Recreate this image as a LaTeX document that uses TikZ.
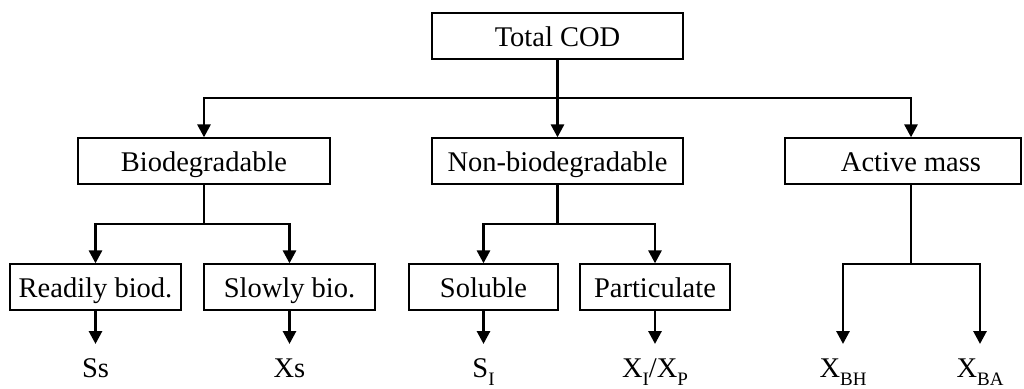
\documentclass[tikz,border=0pt]{standalone}
\usepackage{fontspec}
\setmainfont{Liberation Serif}
\usetikzlibrary{arrows.meta}

% lowered, smaller subscript for the state-variable names
\newcommand\lowsub[1]{\raisebox{-8pt}{\fontsize{19pt}{20pt}\selectfont #1}}

\begin{document}
\begin{tikzpicture}[x=1pt,y=-1pt,
  box/.style={draw, line width=1.3pt, minimum height=46pt, inner sep=0pt,
              text height=20pt, text depth=0pt,
              font=\fontsize{28.5pt}{32pt}\selectfont},
  conn/.style={line width=2.9pt, -{Triangle[width=13pt,length=13pt]}},
  plain/.style={line width=2.9pt},
  var/.style={anchor=base, inner sep=0pt, font=\fontsize{28.5pt}{32pt}\selectfont}]

\useasboundingbox (0,0) rectangle (1024,388);

% boxes
\node[box, minimum width=251pt] (tc)  at (557.5,36)  {Total COD};
\node[box, minimum width=252pt] (bio) at (204,161)   {Biodegradable};
\node[box, minimum width=251pt] (nb)  at (557.5,161) {Non-biodegradable};
\node[box, minimum width=236pt] (am)  at (903,161)   {\hspace*{16pt}Active mass};
\node[box, minimum width=171pt] (rb)  at (95.5,287)  {Readily biod.};
\node[box, minimum width=171pt] (sb)  at (289.5,287) {Slowly bio.};
\node[box, minimum width=149pt] (so)  at (483.5,287) {Soluble};
\node[box, minimum width=150pt] (pa)  at (655,287)   {Particulate};

% component symbols
\node[var] (ss)  at (95.5,377)  {Ss};
\node[var] (xs)  at (289.5,377) {Xs};
\node[var] (si)  at (483.5,377) {S\lowsub{I}};
\node[var] (xip) at (655,377)   {X\lowsub{I}/X\lowsub{P}};
\node[var] (xbh) at (843,377)   {X\lowsub{BH}};
\node[var] (xba) at (980,377)   {X\lowsub{BA}};

% junction points
\coordinate (j0) at (557.5,98);
\coordinate (j1) at (204,224);
\coordinate (j2) at (557.5,224);
\coordinate (amb) at (911,184);
\coordinate (j3) at (911,264);
\coordinate (tips) at (0,344);

% first level
\draw[conn] (tc.south) -- (nb.north);
\draw[conn] (j0) -| (bio.north);
\draw[conn] (j0) -| ([xshift=8pt]am.north);

% biodegradable split
\draw[plain] (bio.south) -- (j1);
\draw[conn] (j1) -| (rb.north);
\draw[conn] (j1) -| (sb.north);

% non-biodegradable split
\draw[plain] (nb.south) -- (j2);
\draw[conn] (j2) -| (so.north);
\draw[conn] (j2) -| (pa.north);

% active mass split
\draw[plain] (amb) -- (j3);
\draw[conn] (j3) -| (xbh |- tips);
\draw[conn] (j3) -| (xba |- tips);

% leaves
\draw[conn] (rb.south) -- (ss |- tips);
\draw[conn] (sb.south) -- (xs |- tips);
\draw[conn] (so.south) -- (si |- tips);
\draw[conn] (pa.south) -- (pa.south |- tips);
\end{tikzpicture}
\end{document}
